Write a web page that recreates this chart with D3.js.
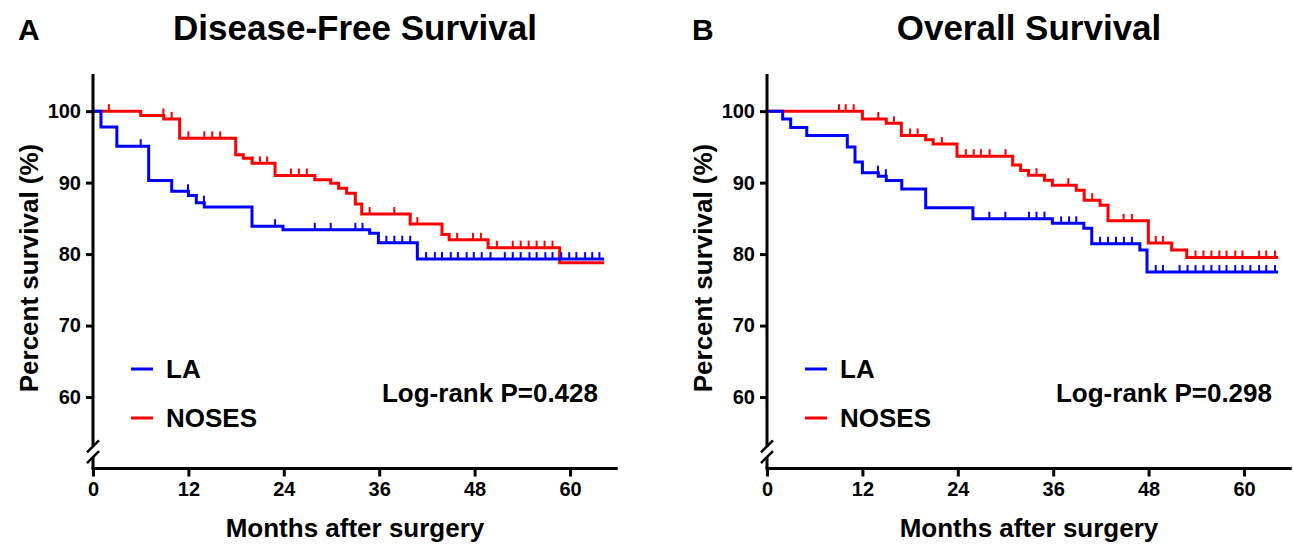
<!DOCTYPE html>
<html><head><meta charset="utf-8">
<script src="https://cdn.jsdelivr.net/npm/d3@7"></script>
<style>
body{margin:0;background:#fff}
svg{display:block}
text{font-family:"Liberation Sans",Arial,sans-serif;font-weight:bold;fill:#000}
</style>
</head><body>
<svg id="c" width="1293" height="544"></svg>
<script>
// ---------- data ----------
const xTicks = [0, 12, 24, 36, 48, 60];
const yTicks = [60, 70, 80, 90, 100];
const groups = ["LA", "NOSES"];
const groupColors = ["#0000ff", "#ff0000"];
const panelLetters = ["A", "B"];
const panelTitles = ["Disease-Free Survival", "Overall Survival"];
const pValues = ["Log-rank P=0.428", "Log-rank P=0.298"];
const xLabel = "Months after surgery";
const yLabel = "Percent survival (%)";
const followUpEnd = 64.1;

// Disease-free survival, LA
const dfsLA_t = [0, 1.0, 3.0, 7.0, 9.9, 12.0, 13.0, 14.0, 20.0, 23.9, 34.8, 35.9, 40.8];
const dfsLA_s = [100, 97.8, 95.1, 90.3, 88.8, 88.2, 87.2, 86.6, 83.9, 83.4, 82.9, 81.6, 79.3];
const dfsLA_c = [6.0, 11.95, 13.95, 22.9, 27.9, 29.9, 33.0, 33.9, 36.9, 37.9, 38.9, 39.9, 41.9, 43.0, 43.9, 45.0, 45.9, 47.0, 47.9, 48.9, 50.0, 51.8, 52.8, 53.8, 54.9, 55.8, 56.9, 57.8, 58.9, 59.9, 60.8, 61.9, 62.8, 63.7];
// Disease-free survival, NOSES
const dfsNO_t = [0, 6.0, 8.9, 10.9, 17.95, 18.9, 20.0, 22.9, 27.9, 29.9, 30.9, 31.9, 33.0, 33.8, 39.9, 43.9, 44.8, 49.7, 58.7];
const dfsNO_s = [100, 99.4, 98.9, 96.2, 93.9, 93.4, 92.7, 91.0, 90.4, 89.9, 89.2, 88.5, 87.0, 85.6, 84.2, 82.75, 82.0, 80.9, 78.8];
const dfsNO_c = [2.0, 8.85, 9.9, 12.0, 14.0, 15.0, 16.0, 20.05, 21.0, 21.9, 24.9, 25.9, 26.9, 34.8, 37.9, 40.8, 45.8, 47.8, 48.8, 50.8, 52.8, 53.8, 54.8, 55.8, 56.8, 57.8];
// Overall survival, LA
const osLA_t = [0, 1.97, 2.98, 5.0, 10.1, 11.07, 12.0, 14.0, 15.0, 16.95, 19.96, 25.9, 35.9, 39.85, 40.85, 46.9, 47.8];
const osLA_s = [100, 98.9, 97.7, 96.6, 95.0, 92.9, 91.4, 90.9, 90.3, 89.1, 86.5, 84.95, 84.3, 83.6, 81.45, 80.56, 77.5];
const osLA_c = [13.95, 14.95, 27.97, 29.98, 32.96, 33.9, 34.9, 37.0, 38.0, 38.9, 41.9, 42.9, 43.9, 44.9, 45.9, 48.9, 49.8, 51.9, 52.9, 53.9, 54.9, 55.9, 56.9, 57.8, 58.9, 59.8, 60.8, 61.9, 62.8, 63.9];
// Overall survival, NOSES
const osNO_t = [0, 12.0, 15.0, 16.9, 19.96, 20.9, 23.9, 30.9, 31.9, 32.9, 34.9, 35.9, 38.9, 39.9, 41.9, 42.9, 47.97, 50.9, 52.8];
const osNO_s = [100, 98.9, 98.3, 96.6, 96.0, 95.4, 93.7, 92.45, 91.7, 91.05, 90.35, 89.65, 88.95, 87.55, 86.85, 84.66, 81.55, 80.56, 79.53];
const osNO_c = [9.06, 9.9, 10.9, 14.0, 15.97, 18.0, 18.95, 22.0, 25.0, 26.0, 26.9, 28.0, 30.0, 33.9, 37.9, 40.9, 44.85, 45.9, 48.9, 49.8, 53.9, 54.9, 55.9, 56.9, 57.8, 58.9, 59.8, 61.9, 62.8, 63.9];

// ---------- drawing ----------
const svg = d3.select("#c");
const panels = [
  {left: 93, idx: 0, curves: [[dfsNO_t, dfsNO_s, dfsNO_c, 1], [dfsLA_t, dfsLA_s, dfsLA_c, 0]]},
  {left: 767, idx: 1, curves: [[osNO_t, osNO_s, osNO_c, 1], [osLA_t, osLA_s, osLA_c, 0]]}
];

function survAt(ts, ss, t) {
  let v = ss[0];
  for (let i = 0; i < ts.length; i++) if (ts[i] <= t) v = ss[i];
  return v;
}

panels.forEach(p => {
  const L = p.left;
  const x = d3.scaleLinear().domain([0, 66]).range([L, L + 524.7]);
  const y = d3.scaleLinear().domain([50, 105.2]).range([468.5, 74]);
  const g = svg.append("g");

  // curves
  p.curves.forEach(([ts, ss, cs, ci]) => {
    const pts = ts.map((t, i) => [t, ss[i]]);
    pts.push([followUpEnd, ss[ss.length - 1]]);
    const line = d3.line().x(d => x(d[0])).y(d => y(d[1])).curve(d3.curveStepAfter);
    g.append("path").datum(pts).attr("d", line)
      .attr("fill", "none").attr("stroke", groupColors[ci]).attr("stroke-width", 3)
      .attr("stroke-linejoin", "miter").attr("stroke-linecap", "square");
    g.selectAll(null).data(cs).enter().append("line")
      .attr("x1", d => x(d)).attr("x2", d => x(d))
      .attr("y1", d => y(survAt(ts, ss, d))).attr("y2", d => y(survAt(ts, ss, d)) - 7)
      .attr("stroke", groupColors[ci]).attr("stroke-width", 2);
  });

  // x axis
  const xa = g.append("g").attr("transform", `translate(0,${y(50)})`)
    .call(d3.axisBottom(x).tickValues(xTicks).tickSize(8).tickSizeOuter(0).tickPadding(5));
  xa.select(".domain").attr("stroke-width", 3).attr("d", `M${L - 1.5},0H${x(66)}`);
  xa.selectAll(".tick line").attr("stroke-width", 3);
  xa.selectAll(".tick text").style("font-size", "20px").style("font-family", "Liberation Sans, Arial, sans-serif").style("font-weight", "bold");

  // y axis with break
  const ya = g.append("g").attr("transform", `translate(${L},0)`)
    .call(d3.axisLeft(y).tickValues(yTicks).tickSize(7).tickSizeOuter(0).tickPadding(5));
  ya.select(".domain").remove();
  ya.selectAll(".tick line").attr("stroke-width", 3);
  ya.selectAll(".tick text").style("font-size", "20px").style("font-family", "Liberation Sans, Arial, sans-serif").style("font-weight", "bold");
  const yb1 = y(53.1), yb2 = y(51.6);
  g.append("line").attr("x1", L).attr("x2", L).attr("y1", y(105.2)).attr("y2", yb1)
    .attr("stroke", "#000").attr("stroke-width", 3);
  g.append("line").attr("x1", L).attr("x2", L).attr("y1", yb2).attr("y2", y(50))
    .attr("stroke", "#000").attr("stroke-width", 3);
  [yb1, yb2].forEach(yy => {
    g.append("line").attr("x1", L - 6).attr("x2", L + 6).attr("y1", yy + 6).attr("y2", yy - 6)
      .attr("stroke", "#000").attr("stroke-width", 2.5);
  });

  // labels
  g.append("text").attr("x", L - 75).attr("y", 40).style("font-size", "30px").text(panelLetters[p.idx]);
  g.append("text").attr("x", L + 262).attr("y", 40).attr("text-anchor", "middle")
    .style("font-size", "35px").text(panelTitles[p.idx]);
  g.append("text").attr("transform", `translate(${L - 55},268) rotate(-90)`).attr("text-anchor", "middle")
    .style("font-size", "26px").text(yLabel);
  g.append("text").attr("x", L + 262).attr("y", 537).attr("text-anchor", "middle")
    .style("font-size", "26px").text(xLabel);

  // legend
  [0, 1].forEach(i => {
    const ly = 369 + i * 49;
    g.append("line").attr("x1", L + 38).attr("x2", L + 60).attr("y1", ly).attr("y2", ly)
      .attr("stroke", groupColors[i]).attr("stroke-width", 3);
    g.append("text").attr("x", L + 73).attr("y", ly + 9).style("font-size", "26px").text(groups[i]);
  });
  g.append("text").attr("x", L + 505).attr("y", 402).attr("text-anchor", "end")
    .style("font-size", "26px").text(pValues[p.idx]);
});
</script>
</body></html>
